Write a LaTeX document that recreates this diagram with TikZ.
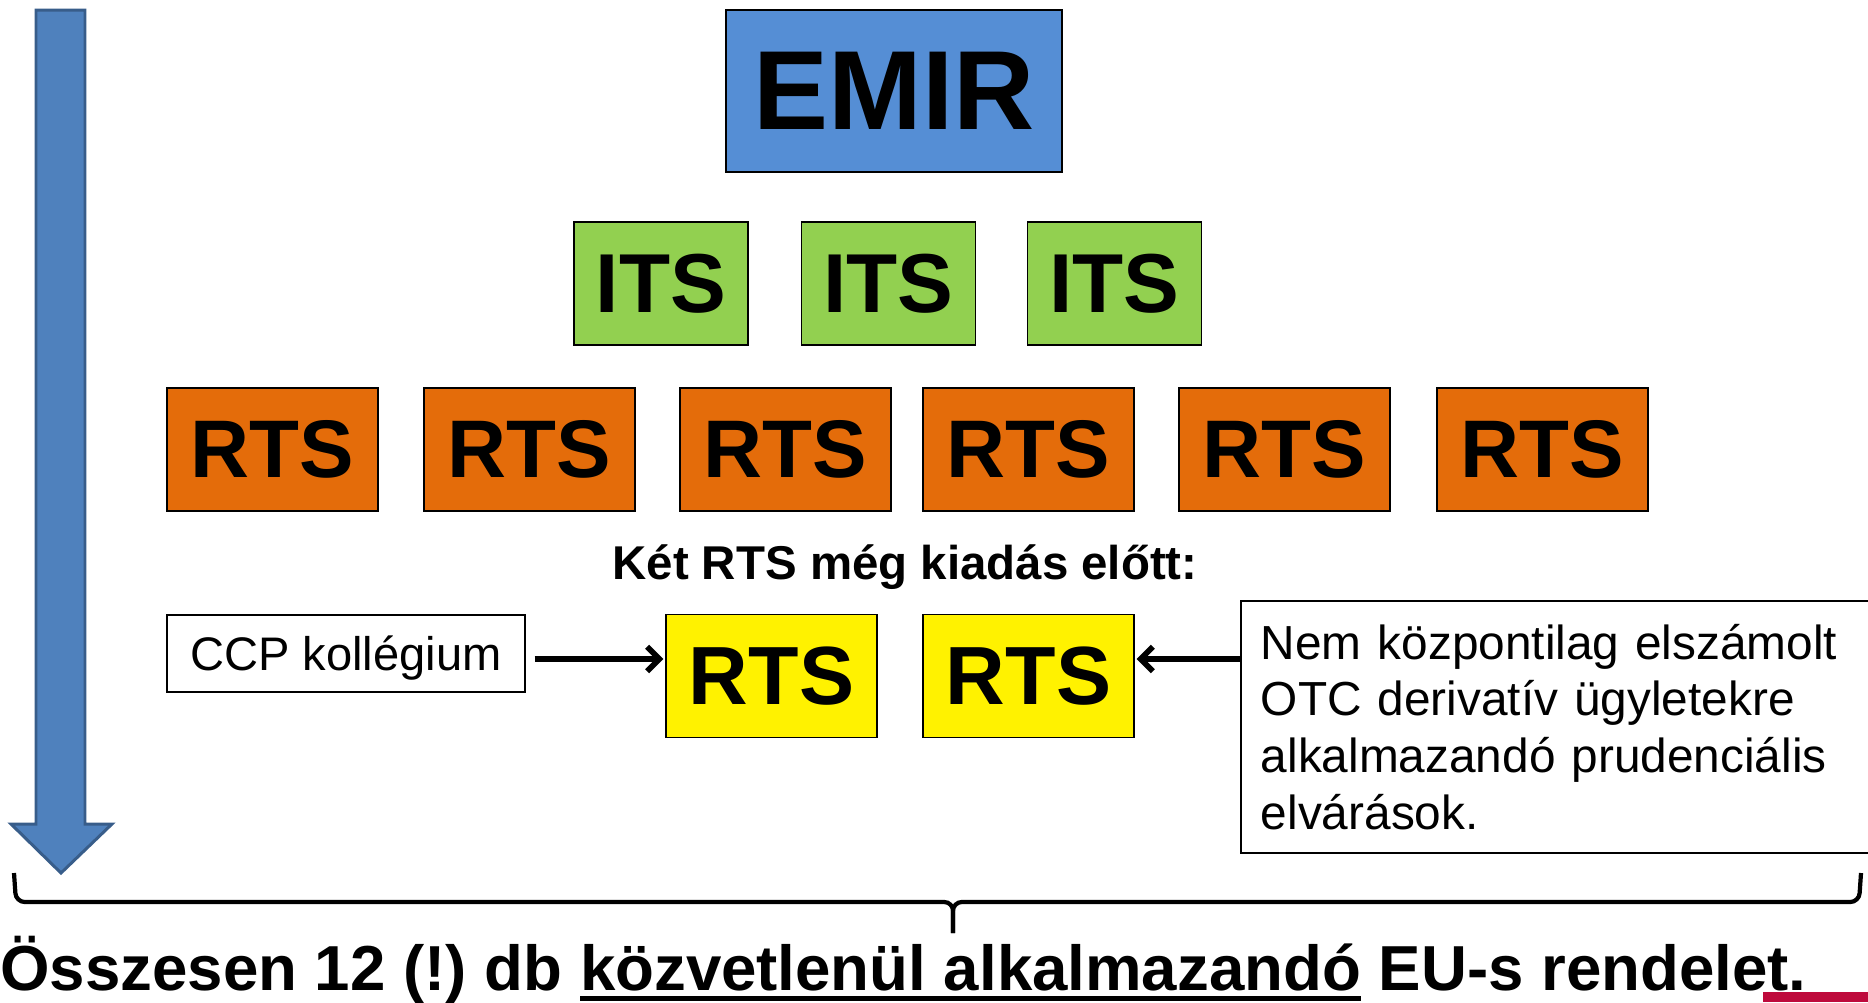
\documentclass[tikz,border=0pt]{standalone}
\usepackage{fontspec}
\setmainfont{Liberation Sans}
\usetikzlibrary{arrows.meta}

\definecolor{emirblue}{RGB}{85,142,213}
\definecolor{itsgreen}{RGB}{146,208,80}
\definecolor{rtsorange}{RGB}{228,108,10}
\definecolor{arrowfill}{RGB}{79,129,189}
\definecolor{arrowline}{RGB}{56,93,138}
\definecolor{barred}{RGB}{190,10,60}
\newcommand{\thickul}[1]{\setbox0\hbox{#1}\rlap{\rule[-6pt]{\wd0}{2.4pt}}\box0\relax}

\begin{document}
\begin{tikzpicture}[x=0.02cm, y=-0.02cm, >={Straight Barb[length=7pt,width=14pt]},
		box/.style={draw, line width=1pt, inner sep=0pt, minimum height=2.46cm},
		emirbox/.style={box, fill=emirblue, minimum width=6.72cm, minimum height=3.24cm, font=\bfseries\fontsize{64}{70}\selectfont},
		itsbox/.style={box, fill=itsgreen, minimum width=3.48cm, font=\bfseries\fontsize{47.6}{52}\selectfont},
		rtsbox/.style={box, fill=rtsorange, minimum width=4.22cm, font=\bfseries\fontsize{46.5}{52}\selectfont},
		newbox/.style={box, fill=yellow, minimum width=4.22cm, font=\bfseries\fontsize{47}{52}\selectfont},
		textbox/.style={draw, line width=1pt},
		conn/.style={->, line width=3.2pt},
		bigarrow/.style={fill=arrowfill, draw=arrowline, line width=1.7pt},
		brace/.style={line width=2.4pt, rounded corners=5pt}]
		
		\clip (0,0) rectangle (1868,1002);
		
		% Time arrow
		\draw[bigarrow] (36,10) -- (85,10) -- (85,824) -- (112,824) -- (61,873) -- (11,824) -- (36,824) -- cycle;
		
		% EMIR and ITS
		\node (emir) at (894,91) [emirbox] {EMIR};
		\node (its1) at (661,283.5) [itsbox] {ITS};
		\node (its2) at (888.5,283.5) [itsbox] {ITS};
		\node (its3) at (1114.5,283.5) [itsbox] {ITS};
		
		% RTS row
		\node (rts1) at (272.5,449.5) [rtsbox] {RTS};
		\node (rts2) at (529.5,449.5) [rtsbox] {RTS};
		\node (rts3) at (785.5,449.5) [rtsbox] {RTS};
		\node (rts4) at (1028.5,449.5) [rtsbox] {RTS};
		\node (rts5) at (1284.5,449.5) [rtsbox] {RTS};
		\node (rts6) at (1542.5,449.5) [rtsbox] {RTS};
		
		% Two RTS still to come
		\node (pending) at (905,579) [anchor=base, font=\bfseries\fontsize{27}{32}\selectfont] {Két RTS még kiadás előtt:};
		\node (new1) at (771.5,676) [newbox] {RTS};
		\node (new2) at (1028.5,676) [newbox] {RTS};
		\node (ccp) at (346,653.5) [textbox, minimum width=7.16cm, minimum height=1.54cm, text depth=0pt, font=\fontsize{26.8}{32}\selectfont] {CCP kollégium};
		\node (otc) at (1240,600) [textbox, anchor=north west, minimum height=5.04cm, text width=12.4cm, inner xsep=0.4cm, align=left, font=\fontsize{27.2}{32.3}\selectfont] {Nem központilag elszámolt\\ OTC derivatív ügyletekre\\ alkalmazandó prudenciális\\ elvárások.};
		\coordinate (lvl) at (0,659);
		\draw[conn, shorten <=5pt, shorten >=1pt] (ccp.east |- lvl) -- (new1.west |- lvl);
		\draw[conn, shorten >=1pt] (otc.west |- lvl) -- (new2.east |- lvl);
		
		% Brace and total
		\draw[brace] (14,873) -- (16,902) -- (953,902) -- (953,933);
		\draw[brace] (1861,873) -- (1859,902) -- (953,902) -- (953,933);
		\node (total) at (0,990) [anchor=base west, inner sep=0pt, font=\bfseries\frenchspacing\fontsize{36.2}{40}\selectfont] {Összesen 12 (!) db \thickul{közvetlenül alkalmazandó} EU-s rendelet.};
		\fill[barred] (1763,992) rectangle (1868,1002);
		
	\end{tikzpicture}
\end{document}
